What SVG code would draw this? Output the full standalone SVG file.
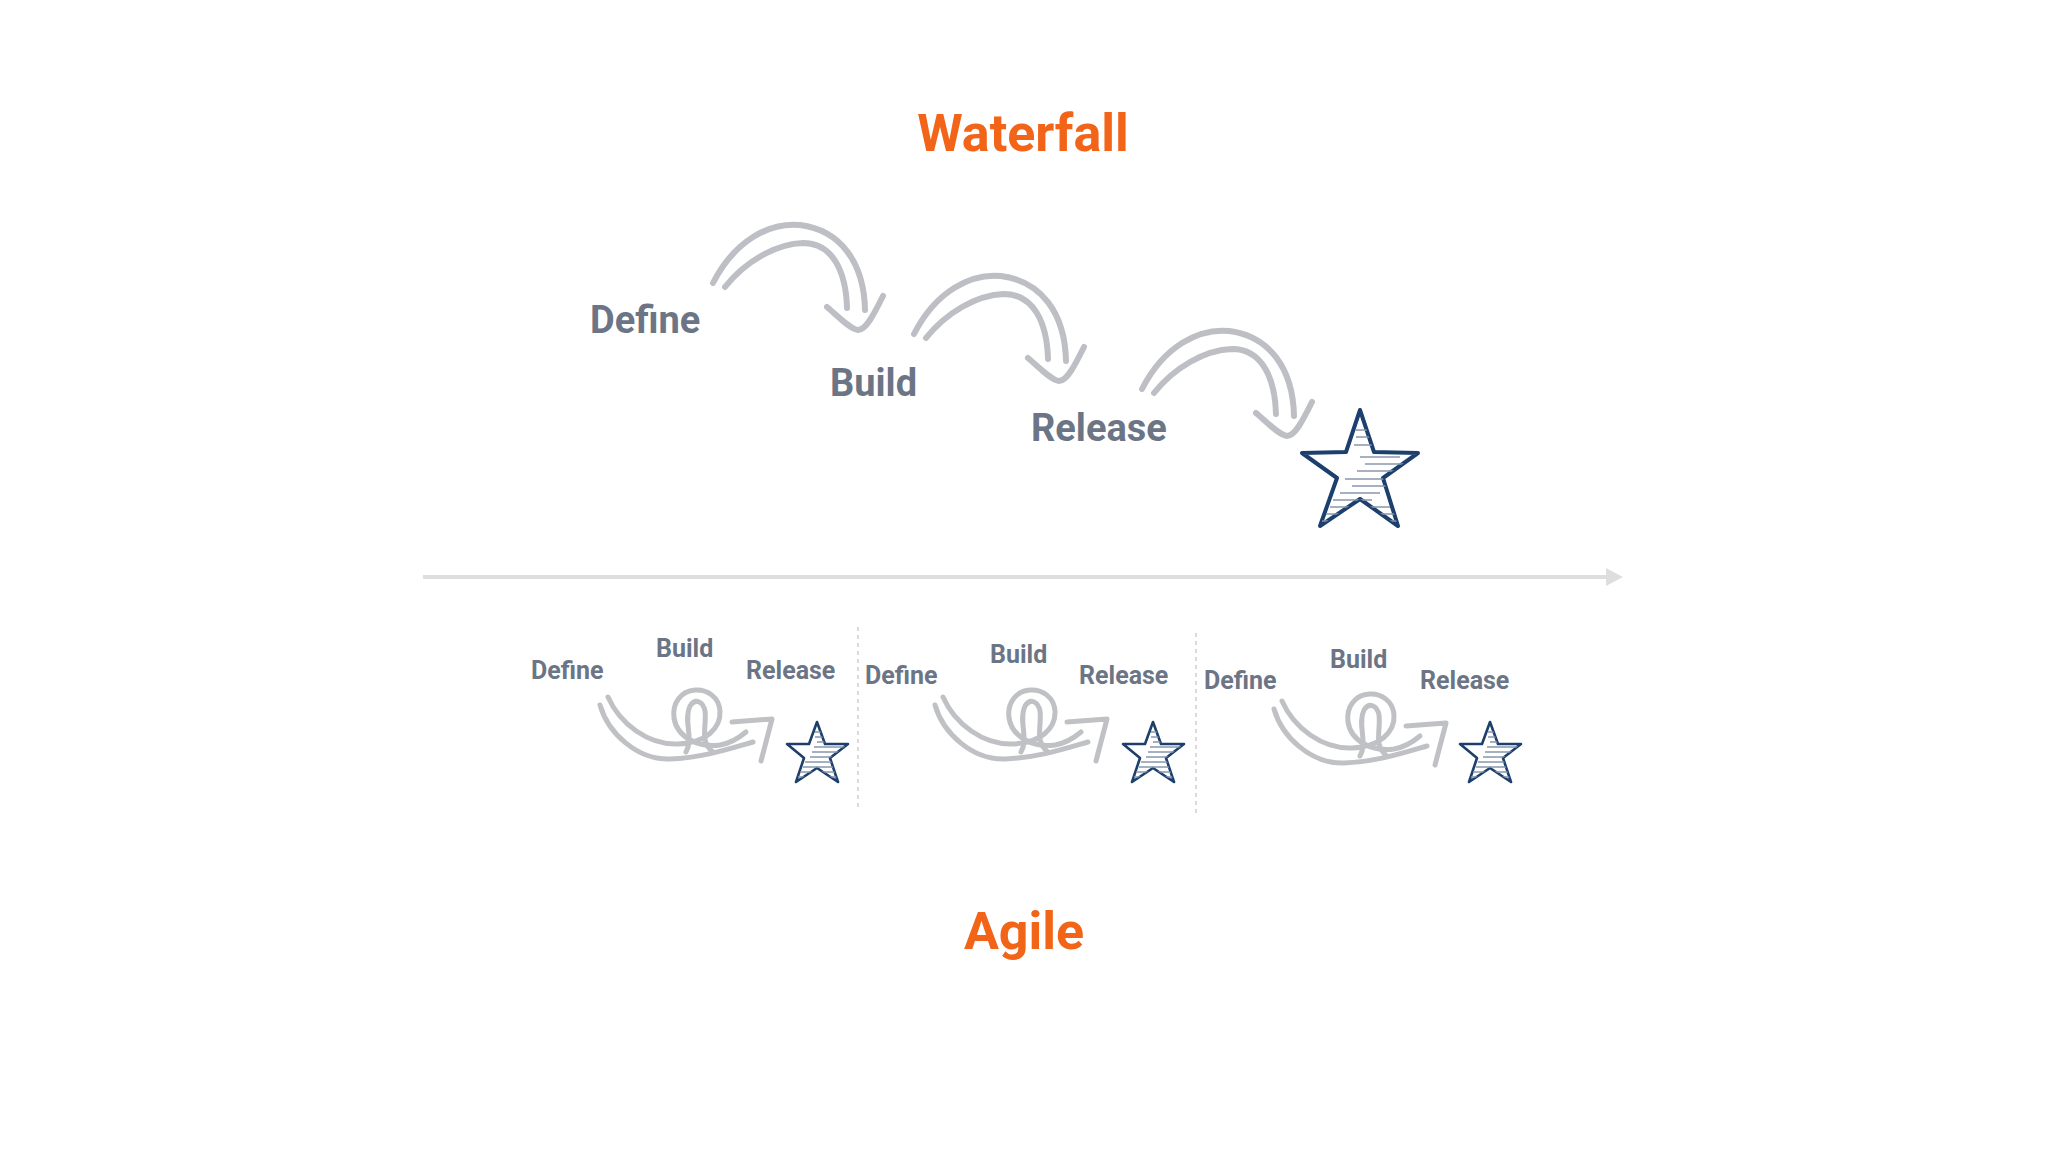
<svg xmlns="http://www.w3.org/2000/svg" width="2048" height="1152" viewBox="0 0 2048 1152">
<style>
.title{font-family:Roboto,"Liberation Sans",sans-serif;font-weight:700;fill:#f26418;font-size:52px;text-anchor:middle}
.lbl{font-family:Roboto,"Liberation Sans",sans-serif;font-weight:700;fill:#6b7585}
.big{font-size:38px}
.small{font-size:25px}
.arc{fill:none;stroke:#bdbfc4;stroke-width:6;stroke-linecap:round;stroke-linejoin:round}
.sq{fill:none;stroke:#bfc1c5;stroke-width:5;stroke-linecap:round;stroke-linejoin:round}
.star{fill:#ffffff;stroke:#1d3f6e;stroke-linejoin:round}
.hatch{stroke:#8796ab;stroke-width:1.3}
.sep{stroke:#cfcfcf;stroke-width:1.5;stroke-dasharray:4 4}
</style>
<defs>
<g id="bigArrow">
<path class="arc" d="M713,283 C735,240 770,222 800,225 C840,230 864,262 865,310"/>
<path class="arc" d="M725,287 C745,262 775,244 803,243 C833,243 846,272 847,308"/>
<path class="arc" d="M827,307 C840,318 850,329 858,330 C866,330 874,314 883,296"/>
</g>
<clipPath id="smallClip"><polygon points="817,722 825,744 848,744 830,758 838,782 817,768 796,782 804,758 787,744 809,744"/></clipPath>
<g id="smallStar">
<polygon class="star" stroke-width="2.6" points="817,722 825,744 848,744 830,758 838,782 817,768 796,782 804,758 787,744 809,744"/>
<g clip-path="url(#smallClip)" class="hatch" stroke-width="1">
<line x1="815" y1="732" x2="830" y2="732"/>
<line x1="815" y1="737" x2="832" y2="737"/>
<line x1="817" y1="742" x2="834" y2="742"/>
<line x1="814" y1="747" x2="845" y2="747"/>
<line x1="812" y1="752" x2="843" y2="752"/>
<line x1="810" y1="757" x2="838" y2="757"/>
<line x1="805" y1="762" x2="835" y2="762"/>
<line x1="803" y1="767" x2="838" y2="767"/>
<line x1="800" y1="772" x2="840" y2="772"/>
<line x1="798" y1="777" x2="842" y2="777"/>
</g>
</g>
<g id="squiggle">
<path class="sq" d="M600,705 C608,733 637,760 670,759 C702,758 732,748 753,742"/>
<path class="sq" d="M608,697 C620,724 648,745 678,744 C706,743 721,728 720,711 C719,697 707,689 695,690 C681,691 672,703 674,718 C677,737 698,748 720,745 C732,743 740,737 746,732"/>
<path class="sq" d="M686,752 C694,738 683,720 690,706 C695,698 703,701 705,711 C707,727 699,741 713,752"/>
<path class="sq" d="M732,722 L772,719 L761,761"/>
</g>
</defs>
<rect width="2048" height="1152" fill="#ffffff"/>

<g id="title-waterfall"><text class="title" x="1023" y="151">Waterfall</text></g>

<g id="wf-define"><text class="lbl big" x="590" y="333">Define</text></g>
<g id="wf-build"><text class="lbl big" x="830" y="396">Build</text></g>
<g id="wf-release"><text class="lbl big" x="1031" y="441">Release</text></g>

<g id="wf-star">
<clipPath id="bigClip"><polygon points="1360,410 1374,452 1418,453 1383,478 1398,526 1360,499 1320,526 1337,478 1302,453 1346,452"/></clipPath>
<polygon class="star" stroke-width="4" points="1360,410 1374,452 1418,453 1383,478 1398,526 1360,499 1320,526 1337,478 1302,453 1346,452"/>
<g clip-path="url(#bigClip)" class="hatch">
<line x1="1355" y1="430" x2="1370" y2="430"/>
<line x1="1356" y1="437" x2="1372" y2="437"/>
<line x1="1354" y1="445" x2="1374" y2="445"/>
<line x1="1360" y1="457" x2="1400" y2="457"/>
<line x1="1365" y1="464" x2="1410" y2="464"/>
<line x1="1357" y1="471" x2="1395" y2="471"/>
<line x1="1345" y1="479" x2="1390" y2="479"/>
<line x1="1352" y1="486" x2="1388" y2="486"/>
<line x1="1340" y1="493" x2="1380" y2="493"/>
<line x1="1333" y1="500" x2="1372" y2="500"/>
<line x1="1330" y1="507" x2="1390" y2="507"/>
<line x1="1326" y1="514" x2="1395" y2="514"/>
<line x1="1322" y1="521" x2="1400" y2="521"/>
</g>
</g>

<g id="connectors">
<use href="#bigArrow"/>
<use href="#bigArrow" transform="translate(201,51)"/>
<use href="#bigArrow" transform="translate(429,106)"/>
<line x1="423" y1="577" x2="1608" y2="577" stroke="#dedede" stroke-width="4"/>
<polygon points="1606,568 1623,577 1606,586" fill="#dedede"/>
<line class="sep" x1="858" y1="627" x2="858" y2="810"/>
<line class="sep" x1="1196" y1="633" x2="1196" y2="816"/>
<use href="#squiggle"/>
<use href="#squiggle" transform="translate(335,0)"/>
<use href="#squiggle" transform="translate(674,4)"/>
</g>

<g id="sprint1">
<text class="lbl small" x="531" y="679">Define</text>
<text class="lbl small" x="656" y="657">Build</text>
<text class="lbl small" x="746" y="679">Release</text>
<use href="#smallStar"/>
</g>
<g id="sprint2">
<text class="lbl small" x="865" y="684">Define</text>
<text class="lbl small" x="990" y="663">Build</text>
<text class="lbl small" x="1079" y="684">Release</text>
<use href="#smallStar" transform="translate(336,0)"/>
</g>
<g id="sprint3">
<text class="lbl small" x="1204" y="689">Define</text>
<text class="lbl small" x="1330" y="668">Build</text>
<text class="lbl small" x="1420" y="689">Release</text>
<use href="#smallStar" transform="translate(673,0)"/>
</g>

<g id="title-agile"><text class="title" x="1024" y="949">Agile</text></g>
</svg>
